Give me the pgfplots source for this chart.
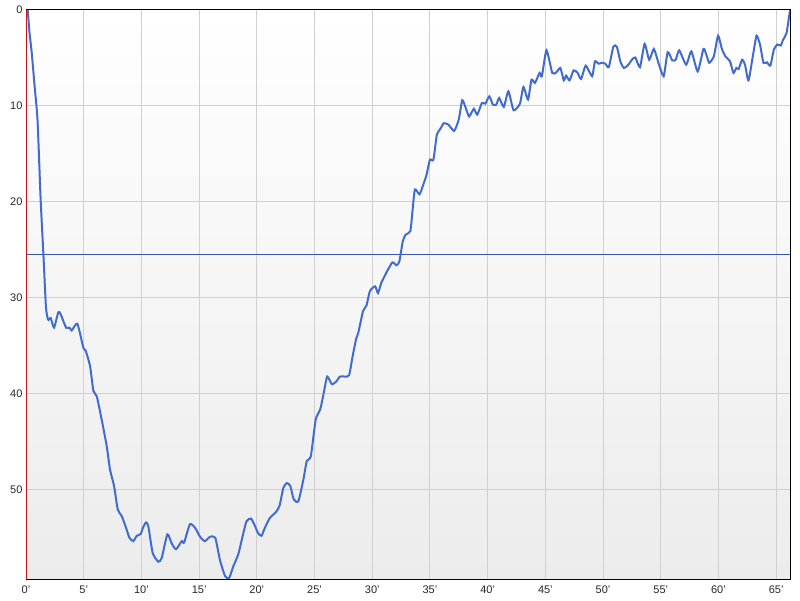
\documentclass[border=0pt]{standalone}
\usepackage{pgfplots}
\pgfplotsset{compat=1.18}
\usepackage{fontspec}
\setmainfont{Liberation Sans}
\usetikzlibrary{shadings}
\definecolor{curve}{RGB}{66,107,208}
\definecolor{hline}{RGB}{55,85,175}
\definecolor{gridc}{RGB}{208,208,208}
\definecolor{bgbot}{RGB}{236,236,236}
\definecolor{axred}{RGB}{200,20,20}
\begin{document}
\begin{tikzpicture}
\path[use as bounding box] (-26pt,-21pt) rectangle (774pt,579pt);
\begin{axis}[
  at={(0pt,0pt)}, anchor=south west,
  scale only axis, width=764pt, height=569pt,
  xmin=0, xmax=66.2, ymin=0, ymax=59.3, y dir=reverse,
  xtick={0,5,10,15,20,25,30,35,40,45,50,55,60,65},
  xticklabels={0',5',10',15',20',25',30',35',40',45',50',55',60',65'},
  ytick={0,10,20,30,40,50},
  grid=major, major grid style={draw=gridc, line width=1pt},
  major tick length=0pt,
  axis line style={black, line width=1pt},
  axis background/.style={top color=white, bottom color=bgbot},
  tick label style={font=\fontsize{11}{13}\selectfont, text=black!85},
  /pgf/number format/assume math mode=true,
  xticklabel style={yshift=-3pt},
  after end axis/.code={\draw[axred, line width=1pt] (rel axis cs:0,0) -- (rel axis cs:0,1);},
]
\addplot[hline, line width=1pt] coordinates {(0,25.5) (66.2,25.5)};
\addplot[curve, line width=2pt, smooth, tension=0.35] coordinates {
(0.15,0) (0.3,2.3) (0.5,4.5) (0.75,8.0) (1.0,11.5) (1.27,19.8) (1.5,25.3) (1.72,30.8)
(1.85,32.0) (1.95,32.3) (2.14,32.1) (2.43,33.1) (2.8,31.5) (3.0,31.7) (3.47,33.1) (3.76,33.1)
(3.96,33.4) (4.45,32.7) (4.97,35.2) (5.17,35.5) (5.55,37.1) (5.84,39.7) (6.13,40.25) (6.56,42.7)
(7.0,45.5) (7.28,47.9) (7.63,49.6) (7.95,52.05) (8.3,52.75) (8.67,53.96) (8.96,55.0) (9.3,55.35)
(9.6,54.8) (9.94,54.6) (10.15,53.9) (10.4,53.4) (10.6,53.8) (10.98,56.6) (11.47,57.5) (11.76,57.1)
(12.25,54.65) (12.63,55.6) (13.0,56.2) (13.5,55.35) (13.7,55.5) (14.2,53.6) (14.65,53.96) (15.08,54.9)
(15.5,55.35) (15.95,54.9) (16.4,55.0) (16.8,57.3) (17.25,59.0) (17.6,59.2) (17.97,57.96) (18.4,56.7)
(18.7,55.2) (19.1,53.3) (19.5,53.0) (19.85,53.8) (20.1,54.5) (20.4,54.8) (20.7,53.96) (21.15,52.9)
(21.6,52.4) (21.96,51.7) (22.3,49.8) (22.6,49.3) (22.9,49.6) (23.2,51.0) (23.6,51.2) (24.04,48.9)
(24.33,47.0) (24.68,46.5) (25.1,42.7) (25.5,41.6) (25.8,39.9) (26.1,38.2) (26.5,39.0) (26.9,38.7)
(27.2,38.2) (27.65,38.2) (28.0,38.05) (28.3,36.1) (28.6,34.3) (28.8,33.6) (29.2,31.4) (29.5,30.8)
(29.8,29.3) (30.25,28.8) (30.5,29.5) (30.8,28.4) (31.3,27.2) (31.75,26.3) (32.1,26.6) (32.35,26.2)
(32.65,24.1) (32.9,23.4) (33.3,23.05) (33.5,20.8) (33.7,18.7) (34.1,19.2) (34.45,18.1) (34.7,17.2)
(35.0,15.6) (35.3,15.6) (35.6,13.0) (35.9,12.4) (36.2,11.8) (36.6,11.95) (37.1,12.6) (37.5,11.4)
(37.8,9.4) (38.1,10.2) (38.4,11.1) (38.8,10.3) (39.1,10.9) (39.5,9.7) (39.8,9.76) (40.15,9.0)
(40.45,9.86) (40.75,9.86) (41.0,9.17) (41.4,10.1) (41.8,8.48) (42.25,10.45) (42.8,9.76) (43.1,8.02)
(43.5,9.34) (43.8,7.26) (44.1,7.6) (44.5,6.56) (44.7,6.9) (45.1,4.2) (45.6,6.56) (45.95,6.5)
(46.3,6.04) (46.6,7.33) (46.8,6.84) (47.1,7.33) (47.45,6.29) (47.8,6.56) (48.1,7.19) (48.5,5.8)
(49.05,6.9) (49.3,5.35) (49.6,5.6) (49.9,5.5) (50.2,5.6) (50.5,5.94) (50.9,3.8) (51.2,3.85)
(51.5,5.35) (51.8,6.04) (52.2,5.7) (52.5,5.18) (52.8,4.95) (53.2,5.96) (53.6,3.54) (54.0,5.18)
(54.4,4.06) (54.8,5.5) (55.25,6.9) (55.6,4.4) (56.0,5.25) (56.3,5.18) (56.6,4.2) (57.2,5.7)
(57.65,4.31) (58.2,6.4) (58.7,4.06) (58.95,4.66) (59.2,5.5) (59.6,4.83) (59.97,2.68) (60.3,4.06)
(60.6,4.83) (61.0,5.35) (61.3,6.56) (61.55,6.04) (61.75,6.15) (62.05,5.18) (62.3,5.7) (62.6,7.33)
(63.0,4.66) (63.3,2.68) (63.6,3.6) (63.9,5.5) (64.2,5.45) (64.5,5.8) (64.8,4.13) (65.1,3.6)
(65.4,3.7) (65.6,3.1) (65.9,2.4) (66.2,0)
};
\end{axis}
\end{tikzpicture}
\end{document}
